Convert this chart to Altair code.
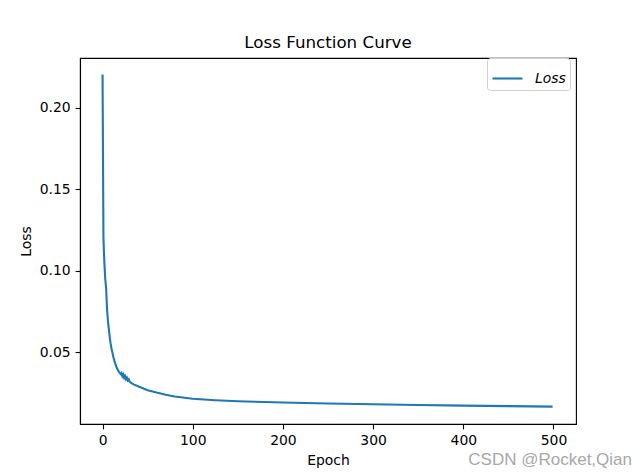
import altair as alt
import pandas as pd

epochs = [0, 1, 2, 3, 4, 5, 6, 7, 8, 9, 10, 12, 14, 16, 18,
          20, 21, 22, 23, 24, 25, 26, 27, 28, 29, 30,
          32, 35, 40, 50, 60, 70, 80, 100, 125, 150, 200, 250, 300, 350, 400, 450, 499]
losses = [0.2205, 0.120, 0.105, 0.095, 0.089, 0.076, 0.069, 0.064, 0.059, 0.055, 0.052, 0.047, 0.043, 0.040, 0.038,
          0.0365, 0.0372, 0.0352, 0.0362, 0.0342, 0.0353, 0.0334, 0.0343, 0.0326, 0.0333, 0.0318,
          0.0309, 0.0300, 0.0288, 0.0266, 0.0251, 0.0238, 0.0227, 0.0213, 0.0204, 0.0198, 0.0190, 0.0184,
          0.0179, 0.0175, 0.0171, 0.0168, 0.0165]
series_name = ["Loss"]
x_ticks = [0, 100, 200, 300, 400, 500]
y_ticks = [0.05, 0.10, 0.15, 0.20]

df = pd.DataFrame({"Epoch": epochs, "Loss": losses, "series": series_name * len(epochs)})

FONT = "DejaVu Sans"

line = alt.Chart(df).mark_line(strokeWidth=2.1, clip=True).encode(
    x=alt.X("Epoch:Q",
            scale=alt.Scale(domain=[-25, 524.95], nice=False, zero=False),
            axis=alt.Axis(values=x_ticks, title="Epoch", format="d")),
    y=alt.Y("Loss:Q",
            scale=alt.Scale(domain=[0.0058, 0.2307], nice=False, zero=False),
            axis=alt.Axis(values=y_ticks, title="Loss", format=".2f")),
    color=alt.Color("series:N",
                    scale=alt.Scale(domain=series_name, range=["#1f77b4"]),
                    legend=alt.Legend(
                        title=None, orient="none", legendX=407, legendY=0,
                        symbolType="stroke", symbolSize=900, symbolStrokeWidth=2.1,
                        labelFontStyle="italic", labelFontSize=13.9, labelFont=FONT,
                        labelColor="black", labelOffset=11, padding=4,
                        strokeColor="#d0d0d0", fillColor="white", cornerRadius=3)),
)

watermark = alt.Chart(pd.DataFrame({"t": ["CSDN @Rocket,Qian"]})).mark_text(
    align="right", baseline="middle", fontSize=17, font="Liberation Sans", color="#a8a8a8"
).encode(x=alt.value(552), y=alt.value(402), text="t:N")

chart = alt.layer(line, watermark).properties(
    width=496, height=366,
    title=alt.TitleParams("Loss Function Curve", fontSize=16.7, fontWeight="normal",
                          font=FONT, color="black", offset=6, anchor="middle"),
    autosize=alt.AutoSizeParams(type="none"),
    padding={"left": 72, "top": 50, "right": 56, "bottom": 44},
).configure_view(
    stroke="black", strokeWidth=1.1
).configure_axis(
    grid=False, domainColor="black", domainWidth=1.1, tickColor="black", tickWidth=1.1,
    tickSize=4.9, labelPadding=4.9, labelFont=FONT, labelFontSize=13.9, labelColor="black",
    titleFont=FONT, titleFontSize=13.9, titleFontWeight="normal", titleColor="black",
).configure_axisX(titlePadding=6).configure_axisY(titlePadding=6)

chart.save("out.html", embed_options={"renderer": "svg", "actions": False})
